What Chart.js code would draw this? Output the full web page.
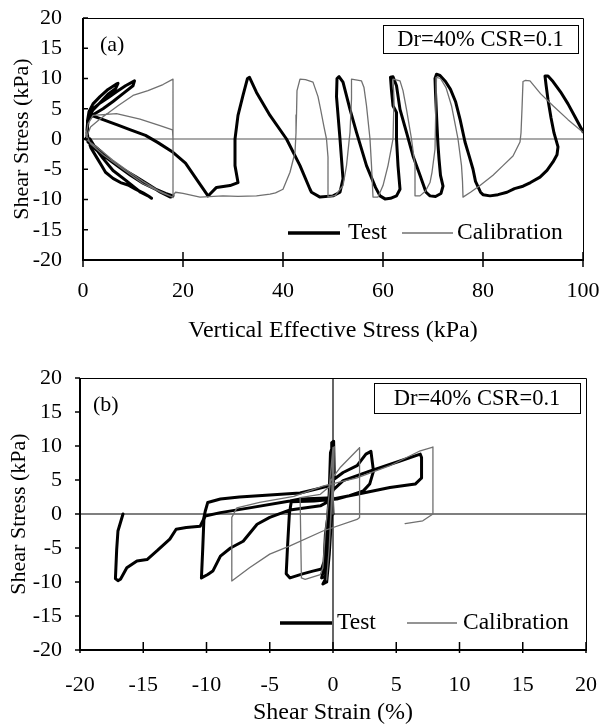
<!DOCTYPE html>
<html>
<head>
<meta charset="utf-8">
<script src="https://cdn.jsdelivr.net/npm/chart.js@4"></script>
<style>
  body { margin: 0; background: #fff; }
  #wrap { position: relative; width: 600px; height: 727px; }
  canvas { position: absolute; left: 0; }
  #chartA { top: 0; }
  #chartB { top: 360px; }
</style>
</head>
<body>
<div id="wrap">
  <canvas id="chartA" width="600" height="360"></canvas>
  <canvas id="chartB" width="600" height="367"></canvas>
</div>
<script>
// tick values
var effStressTicks = [0, 20, 40, 60, 80, 100];
var strainTicks = [-20, -15, -10, -5, 0, 5, 10, 15, 20];
var shearTicks = [-20, -15, -10, -5, 0, 5, 10, 15, 20];

// (a) test: [vertical effective stress kPa, shear stress kPa]
var testA = [
  [100, 1.2], [98.5, 3.5], [97, 5.8], [95.5, 7.8], [94, 9.5], [93, 10.4], [92.4, 10.4], [92.6, 9],
  [93, 6.5], [93.6, 3.5], [94.2, 1], [95, -1.3], [94.8, -2.6], [94, -3.8], [92.8, -5.2], [91.4, -6.3],
  [89.5, -7.2], [88, -7.8], [86.3, -8.2], [84.8, -8.8], [83, -9.2], [81.4, -9.4], [80, -9.2],
  [79.5, -8.8], [78.5, -7], [78, -5], [77.3, -3], [76.4, -0.5], [75.4, 3.3], [74.5, 6.2], [73.5, 8.2],
  [72.5, 9.5], [71.4, 10.5], [70.7, 10.7], [70.4, 10], [70.5, 7.7], [70.8, 2.2], [71, -1], [71.2, -3.3],
  [71.5, -6], [72, -7.8], [71.6, -9], [70.5, -9.5], [69.4, -9.4], [68.6, -8.8], [67.4, -6], [66, -2.8],
  [64.7, 1.1], [63.4, 4.9], [62.7, 8.8], [62, 10.3], [61.5, 10.2], [61.7, 8], [62, 5.5], [62.7, 4.4],
  [62.7, 0], [63, -4.4], [63.4, -8.3], [62.7, -9.4], [61.5, -9.8], [60.4, -9.9], [59.4, -9.4],
  [58.5, -8], [56.7, -4.4], [54.7, 1.1], [53.4, 4.9], [52, 9.4], [51.2, 10.3], [50.8, 10], [50.7, 7],
  [51.4, 0], [52, -6.6], [51.4, -8.8], [50, -9.4], [47.4, -9.6], [45.7, -8.8], [45.4, -8.3],
  [43.4, -4.4], [40.7, 0], [37.4, 3.9], [34.7, 7.7], [33.3, 10.2], [32.9, 10], [32.7, 9.4], [32, 7.2],
  [31, 3.9], [30.4, 0], [30.4, -4.4], [31, -7.2], [29.4, -7.7], [26.7, -8], [25.4, -9.1], [25, -9.4],
  [23, -7], [20.5, -4], [18, -2.2], [15, -0.6], [12.5, 0.6], [9.5, 1.5], [7, 2.3], [4, 3.2], [1.4, 4],
  [2, 5], [3.5, 6], [5, 6.8], [6.7, 7.8], [8.5, 8.8], [10.3, 9.6], [10, 8.8], [8, 7.5], [6, 6.2],
  [4, 5], [2, 4], [1, 3], [0.8, 1], [1, -0.5], [2.5, -1.7], [4.5, -3], [7, -4.5], [9.5, -6], [12, -7.3],
  [14.5, -8.3], [16.5, -9], [18, -9.4], [17.5, -9.6], [15.5, -8.8], [13, -7.5], [10.5, -6.2], [8, -5],
  [5.5, -3.6], [3.5, -2], [1.5, -0.6], [0.8, 0.5], [0.9, 3], [1.2, 4.5], [2, 5.8], [3.4, 7], [5, 8.2],
  [6.7, 9.1], [7, 9.2], [6.5, 8.3], [5, 7.4], [3.4, 6], [2, 4.8], [1, 3.5], [0.8, 1.5], [1, 0],
  [1.6, -1.5], [2.7, -3], [3.8, -4.5], [4.5, -5.5], [6, -6.5], [7.5, -7.2], [9, -7.6], [10.5, -8.3],
  [12, -8.9], [13.4, -9.6], [13.7, -9.8], [13, -9.4], [11.5, -8.8], [10, -7.8], [8.5, -6.8], [6, -5.2],
  [4, -3.2], [2.5, -1.5], [1.4, 0], [0.7, 0.2], [0.5, 0]
];

// (a) calibration
var calA = [
  [100, 1.1], [97, 3.2], [94, 5.5], [91.5, 7.5], [89.4, 9.6], [88.5, 9.7], [88, 9.5], [87.8, 5],
  [87.6, 1], [87.4, -0.5], [86, -2.8], [84, -4.4], [82, -6], [79.4, -7.7], [77.5, -8.8], [76, -9.6],
  [75.9, -7], [75.7, -4.4], [75, 0], [74.3, 3], [73.7, 5.5], [72.6, 8.5], [71.5, 10], [70.7, 10.2],
  [70.6, 6.6], [70.4, -1.7], [69.8, -5.5], [69.4, -7.2], [68.5, -8.6], [67.4, -9.4], [66.4, -9.4],
  [66.4, -4.4], [65.7, 0], [64.7, 4.9], [64, 8], [63.4, 9.6], [62, 9.9], [62.2, 6.6], [62, 0],
  [61, -4.4], [60, -7.7], [59, -9.6], [58, -9.6], [57.7, -4.4], [57.4, 0], [56.7, 5.5], [56.2, 8.5],
  [55.7, 9.6], [53.7, 9.9], [53.7, 6.6], [53.4, 1.1], [52.7, -4.4], [52, -7.7], [50.5, -9.3], [49, -9.6],
  [49, -3], [48.7, 0], [48.2, 2], [47.5, 5], [47, 7], [46, 9.4], [44.5, 9.8], [43.4, 9.9], [42.8, 8],
  [42.7, 4], [42.6, 1], [42.4, -2.2], [41.4, -5.5], [40, -8.3], [38.5, -8.9], [37.4, -9.1], [34.7, -9.4],
  [31, -9.5], [28, -9.4], [23.4, -9.6], [20, -9], [18.5, -8.8], [18, -9.4], [18, 0], [17.9, 1.5],
  [15.4, 2.2], [11.4, 3.3], [6.7, 4.2], [2, 3.9], [1, 2.5], [0.6, 0.5], [1, -0.3], [3, -1.5], [6, -3.5],
  [9, -5.3], [12, -7], [15, -8.5], [17.9, -9.6], [18, -9.7], [18, 0], [18, 9.9], [16, 9], [13, 8],
  [10, 7.2], [7, 5.5], [3.4, 3.3], [1.5, 2], [0.8, 0.5], [1.5, -0.8], [4, -2.6], [8, -5], [12, -7.4],
  [16, -9], [17.6, -9.5]
];

// (b) test: [shear strain %, shear stress kPa]
var testB = [
  [0, 0], [-0.1, 5], [-0.1, 10.5], [0.05, 10.7], [0.1, 6], [-0.2, 0], [-0.4, -5], [-0.6, -9.6],
  [-0.8, -10.3], [-0.5, -10], [-0.3, -6], [-0.1, 0], [0, 5], [0, 10.2], [-0.2, 9], [-0.3, 3], [-0.5, -3],
  [-0.7, -8], [-0.9, -9.4], [-0.6, -9.2], [-0.3, -4], [-0.1, 1], [0, 5],
  [0.8, 6.1], [1.9, 7.1], [2.6, 8.8], [3, 9.2], [3.2, 6.3], [2.9, 4.4], [2.4, 3.4], [1.3, 2.7],
  [0.3, 2.2], [-1.5, 1.9], [-3.3, 1.8], [-3.45, 0], [-3.6, -5], [-3.7, -8.8], [-3.4, -9.4],
  [-2.4, -8.8], [-1.6, -8.4], [-0.9, -8.1], [-0.7, -7], [-0.6, -3], [-0.3, 1], [0, 3.5],
  [0.8, 4.9], [2.9, 6.3], [5.3, 7.8], [6.9, 8.8], [7, 8.3], [7, 5.3], [6.5, 4.4], [4.5, 3.9],
  [1.9, 2.9], [0, 2.2], [-1, 1.2], [-3.4, 0.6], [-5, -0.5], [-6, -1.5], [-7.1, -4], [-8.1, -5],
  [-8.9, -6.2], [-9.5, -8.4], [-9.9, -8.9], [-10.4, -9.4], [-10.3, -5.2], [-10.2, -0.5], [-10.1, 0.4],
  [-9.9, 1.7], [-8.9, 2.2], [-7.4, 2.5], [-5, 2.8], [-2.6, 3.1], [-1, 3.8], [0, 4.3]
];
var testB2 = [
  [-16.6, 0], [-17, -2.5], [-17.1, -5.2], [-17.2, -9.5], [-17, -9.8], [-16.8, -9.6], [-16.3, -7.9],
  [-15.5, -6.9], [-14.7, -6.7], [-13.9, -5.4], [-12.9, -3.7], [-12.4, -2.25], [-11.6, -2], [-10.5, -1.8],
  [-10.1, -0.3], [-8.9, 0.2], [-6.6, 0.9], [-3.4, 1.9], [-2.6, 2.2], [-1, 2.3], [0, 2.4]
];

// (b) calibration
var calB = [
  [0, 0], [0.1, 9.9], [0, 5], [-0.3, -5], [-0.5, -9.7], [-0.3, -5], [-0.1, 3], [0, 9.8], [-0.3, 4],
  [-1, 2.9], [-2.6, 2.4], [-2.5, -9.4], [-2.2, -9.6], [-1, -8.9], [-0.8, -7.9], [-0.6, -2.5],
  [-0.2, 4.9], [0.55, 6.8], [2.1, 9.75], [2.1, -0.5], [1.9, -0.8], [-0.8, -2.5], [-3.4, -4.7],
  [-5, -5.9], [-6.6, -7.9], [-8, -9.85], [-8, -0.5], [-7.6, 0.9], [-5.8, 1.7], [-3.1, 2.6],
  [-0.8, 4.1], [1.9, 5.3], [4.5, 7.1], [6.9, 9.3], [7.9, 9.85], [7.9, 0], [7.1, -1], [5.7, -1.4]
];

var serif = '"Liberation Serif", "Times New Roman", serif';

function pts(arr) {
  return arr.map(function (p) { return { x: p[0], y: p[1] }; });
}

// frame, inner ticks, zero lines, legend, labels
var extras = {
  id: 'extras',
  beforeDatasetsDraw: function (chart, args, o) {
    var ctx = chart.ctx, a = chart.chartArea;
    var xs = chart.scales.x, ys = chart.scales.y;
    ctx.save();
    ctx.strokeStyle = o.zeroColor;
    ctx.lineWidth = 1.2;
    var y0 = ys.getPixelForValue(0);
    ctx.beginPath(); ctx.moveTo(a.left, y0); ctx.lineTo(a.right, y0); ctx.stroke();
    if (o.xZero) {
      var x0 = xs.getPixelForValue(0);
      ctx.beginPath(); ctx.moveTo(x0, a.top); ctx.lineTo(x0, a.bottom); ctx.stroke();
    }
    ctx.restore();
  },
  afterDraw: function (chart, args, o) {
    var ctx = chart.ctx, a = chart.chartArea;
    var xs = chart.scales.x, ys = chart.scales.y;
    ctx.save();
    // thin top / right frame
    ctx.strokeStyle = '#000';
    ctx.lineWidth = 1;
    ctx.beginPath();
    ctx.moveTo(a.left, a.top + 0.5); ctx.lineTo(a.right + 0.5, a.top + 0.5); ctx.lineTo(a.right + 0.5, a.bottom);
    ctx.stroke();
    // axes
    ctx.lineWidth = 2;
    ctx.beginPath();
    ctx.moveTo(a.left, a.top); ctx.lineTo(a.left, a.bottom); ctx.lineTo(a.right + 1, a.bottom);
    ctx.stroke();
    // tick marks
    ctx.lineWidth = 1.5;
    xs.ticks.forEach(function (t) {
      var px = xs.getPixelForValue(t.value);
      ctx.beginPath(); ctx.moveTo(px, a.bottom - o.xIn); ctx.lineTo(px, a.bottom + o.xOut); ctx.stroke();
    });
    ys.ticks.forEach(function (t) {
      var py = ys.getPixelForValue(t.value);
      ctx.beginPath(); ctx.moveTo(a.left - o.yOut, py); ctx.lineTo(a.left + o.yIn, py); ctx.stroke();
    });
    // panel label
    ctx.fillStyle = '#000';
    ctx.font = '22px ' + serif;
    ctx.textBaseline = 'middle';
    ctx.textAlign = 'left';
    ctx.fillText(o.panel, o.panelX, o.panelY);
    // condition box
    ctx.fillStyle = '#fff';
    ctx.fillRect(o.box[0], o.box[1], o.box[2] - o.box[0], o.box[3] - o.box[1]);
    ctx.lineWidth = 1;
    ctx.strokeStyle = '#000';
    ctx.strokeRect(o.box[0] + 0.5, o.box[1] + 0.5, o.box[2] - o.box[0], o.box[3] - o.box[1]);
    ctx.fillStyle = '#000';
    ctx.textAlign = 'center';
    ctx.font = '22.5px ' + serif;
    ctx.fillText(o.boxText, (o.box[0] + o.box[2]) / 2, (o.box[1] + o.box[3]) / 2 + 1);
    // legend
    var L = o.legend;
    ctx.font = '23.5px ' + serif;
    ctx.textAlign = 'left';
    ctx.strokeStyle = '#000';
    ctx.lineWidth = 3.5;
    ctx.beginPath(); ctx.moveTo(L.t1, L.y); ctx.lineTo(L.t2, L.y); ctx.stroke();
    ctx.fillText('Test', L.t3, L.y);
    ctx.strokeStyle = '#707070';
    ctx.lineWidth = 1.3;
    ctx.beginPath(); ctx.moveTo(L.c1, L.y); ctx.lineTo(L.c2, L.y); ctx.stroke();
    ctx.fillText('Calibration', L.c3, L.y);
    ctx.restore();
  }
};

function makeChart(id, cfg) {
  var datasets = cfg.series.map(function (s) {
    return {
      data: pts(s.data),
      showLine: true,
      borderColor: s.color,
      borderWidth: s.width,
      pointRadius: 0,
      tension: 0,
      fill: false,
      order: s.order,
      borderJoinStyle: 'round',
      borderCapStyle: 'round'
    };
  });
  return new Chart(document.getElementById(id), {
    type: 'scatter',
    data: { datasets: datasets },
    plugins: [extras],
    options: {
      responsive: false,
      animation: false,
      events: [],
      layout: { padding: { top: 18, right: cfg.padRight, left: 0, bottom: 0 } },
      plugins: {
        legend: { display: false },
        tooltip: { enabled: false },
        extras: cfg.extras
      },
      scales: {
        x: {
          type: 'linear',
          min: cfg.xTicks[0],
          max: cfg.xTicks[cfg.xTicks.length - 1],
          afterBuildTicks: function (s) { s.ticks = cfg.xTicks.map(function (v) { return { value: v }; }); },
          afterFit: function (s) { s.height = cfg.xHeight; s.paddingLeft = 0; s.paddingRight = 0; },
          grid: { display: false, drawTicks: false, tickLength: 0 },
          border: { display: false },
          ticks: { color: '#000', font: { family: serif, size: 22 }, padding: cfg.xPad, maxRotation: 0 },
          title: { display: true, text: cfg.xTitle, color: '#000', font: { family: serif, size: 24 }, padding: { top: 0, bottom: cfg.xTitlePad } }
        },
        y: {
          type: 'linear',
          min: -20,
          max: 20,
          afterBuildTicks: function (s) { s.ticks = shearTicks.map(function (v) { return { value: v }; }); },
          afterFit: function (s) { s.width = cfg.yWidth; s.paddingTop = 0; s.paddingBottom = 0; },
          grid: { display: false, drawTicks: false, tickLength: 0 },
          border: { display: false },
          ticks: { color: '#000', font: { family: serif, size: 22 }, padding: cfg.yPad },
          title: { display: true, text: 'Shear Stress (kPa)', color: '#000', font: { family: serif, size: 22 }, padding: { top: cfg.yTitlePad, bottom: 0 } }
        }
      }
    }
  });
}

makeChart('chartA', {
  series: [
    { data: testA, color: '#000', width: 3, order: 2 },
    { data: calA, color: '#707070', width: 1.3, order: 1 }
  ],
  xTicks: effStressTicks,
  xTitle: 'Vertical Effective Stress (kPa)',
  padRight: 17, xHeight: 100, yWidth: 83,
  xPad: 18, xTitlePad: 15, yPad: 21, yTitlePad: 9,
  extras: {
    zeroColor: '#555', xZero: false,
    xIn: 8, xOut: 7, yIn: 5, yOut: 0,
    panel: '(a)', panelX: 100, panelY: 45,
    box: [383, 25, 578, 53], boxText: 'Dr=40% CSR=0.1',
    legend: { y: 233, t1: 288, t2: 340, t3: 348, c1: 402, c2: 453, c3: 457 }
  }
});

makeChart('chartB', {
  series: [
    { data: testB, color: '#000', width: 3, order: 2 },
    { data: testB2, color: '#000', width: 3, order: 2 },
    { data: calB, color: '#707070', width: 1.3, order: 1 }
  ],
  xTicks: strainTicks,
  xTitle: 'Shear Strain (%)',
  padRight: 14, xHeight: 77, yWidth: 80,
  xPad: 22, xTitlePad: 0, yPad: 18, yTitlePad: 6,
  extras: {
    zeroColor: '#000', xZero: true,
    xIn: 8, xOut: 3, yIn: 0, yOut: 5,
    panel: '(b)', panelX: 93, panelY: 45,
    box: [374, 23, 580, 53], boxText: 'Dr=40% CSR=0.1',
    legend: { y: 263, t1: 280, t2: 332, t3: 337, c1: 407, c2: 457, c3: 463 }
  }
});
</script>
</body>
</html>
